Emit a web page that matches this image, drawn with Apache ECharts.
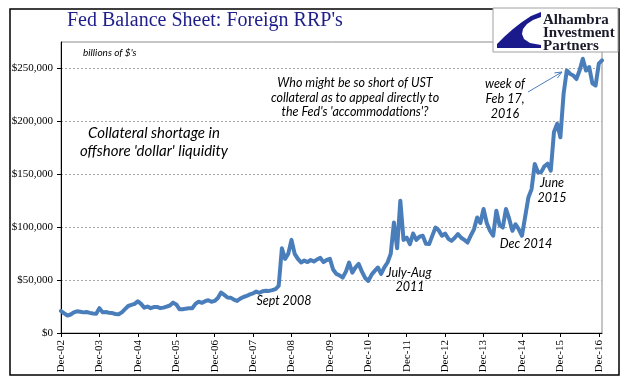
<!DOCTYPE html>
<html>
<head>
<meta charset="utf-8">
<script src="https://cdn.jsdelivr.net/npm/echarts@6/dist/echarts.min.js"></script>
<style>
html,body{margin:0;padding:0;background:#fff;}
#chart{width:641px;height:381px;}
</style>
</head>
<body>
<div id="chart"></div>
<script>
// Foreign RRP's, $ millions, monthly readings from Dec-02 through Jan-17
const v2002 = [20800];
const v2003 = [18500,16500,17500,19500,20500,20000,19500,19800,19000,18500,18200,23500];
const v2004 = [19500,19800,19200,18800,18000,17700,19500,22500,25500,26500,27500,30000];
const v2005 = [27500,24000,25000,23500,24500,24600,23500,24000,25000,26000,28700,27000];
const v2006 = [22500,22400,23000,23500,23400,27500,29600,28500,30000,31000,29500,30300];
const v2007 = [33000,38200,36000,33500,33400,31500,30300,32500,34000,35000,36500,37500];
const v2008 = [39100,38000,39500,40000,39800,40500,41500,44500,80000,70000,75000,88000];
const v2009 = [74800,70000,66600,68500,67000,69000,67500,69500,71000,67000,69000,70000];
const v2010 = [60000,55800,54500,52400,58000,66600,57100,62000,65300,58000,52000,49200];
const v2011 = [55000,58700,61900,55800,62000,66600,74800,104500,80000,125000,88000,90200];
const v2012 = [84000,94000,88000,91000,91900,84300,84000,92000,99700,97000,91900,94000];
const v2013 = [89000,87100,90000,93500,90000,88000,85500,92000,98000,109200,104000,117200];
const v2014 = [104000,96600,91900,115500,102000,99700,117200,108000,96600,102800,98000,91900];
const v2015 = [110000,128000,136000,159700,151900,152000,157500,160000,153400,190000,197700,185000];
const v2016 = [226000,248100,245000,243400,240000,248100,259200,248000,251300,236000,233900,254500];
const v2017 = [257600];

const rrpValues = [].concat(v2002,v2003,v2004,v2005,v2006,v2007,v2008,v2009,v2010,v2011,v2012,v2013,v2014,v2015,v2016,v2017);

const monthNames = ['Jan','Feb','Mar','Apr','May','Jun','Jul','Aug','Sep','Oct','Nov','Dec'];
const yearTicks = ['Dec-02','Dec-03','Dec-04','Dec-05','Dec-06','Dec-07','Dec-08','Dec-09','Dec-10','Dec-11','Dec-12','Dec-13','Dec-14','Dec-15','Dec-16'];
const yTicks = [0,50000,100000,150000,200000,250000];

const categories = [];
for (let i = 0; i < rrpValues.length; i++) {
  const mIdx = (11 + i) % 12;
  const yr = 2002 + Math.floor((11 + i) / 12);
  categories.push(monthNames[mIdx] + '-' + String(yr).slice(2));
}

const chart = echarts.init(document.getElementById('chart'), null, {renderer: 'canvas'});

const annoFont = 'Lato, "Open Sans", sans-serif';
function note(x, y, text, size, align) {
  return {
    type: 'text', x: x, y: y, z: 10,
    style: {
      text: text, fill: '#000', font: 'italic ' + size + 'px ' + annoFont,
      textAlign: align || 'center', textVerticalAlign: 'middle'
    }
  };
}

const option = {
  animation: false,
  backgroundColor: '#fff',
  grid: {
    left: 61, right: 39, top: 42, bottom: 48,
    show: true, borderColor: '#8c8c8c', borderWidth: 1, backgroundColor: 'transparent'
  },
  xAxis: {
    type: 'category',
    data: categories,
    boundaryGap: false,
    axisLine: {lineStyle: {color: '#000', width: 1}},
    axisTick: {
      show: true, length: 4, lineStyle: {color: '#000'},
      interval: function (idx) { return idx % 12 === 0; }
    },
    axisLabel: {
      rotate: 90, margin: 7,
      interval: function (idx) { return idx % 12 === 0; },
      formatter: function (val, idx) { return yearTicks[Math.round(idx / 12)] || val; },
      fontFamily: '"Liberation Serif", serif', fontSize: 11, color: '#000'
    },
    splitLine: {show: false}
  },
  yAxis: {
    type: 'value',
    min: 0, max: 275000, interval: 50000,
    axisLine: {show: true, lineStyle: {color: '#000', width: 1}},
    axisTick: {show: true, length: 4, lineStyle: {color: '#000'}, customValues: yTicks},
    axisLabel: {
      customValues: yTicks, margin: 8,
      fontFamily: '"Liberation Serif", serif', fontSize: 11, color: '#000',
      formatter: function (v) { return '$' + v.toLocaleString('en-US'); }
    },
    splitLine: {show: true, lineStyle: {color: '#a8a8a8', type: [2, 2], width: 1}}
  },
  series: [{
    type: 'line',
    data: rrpValues,
    showSymbol: false,
    lineStyle: {color: '#4a7ebb', width: 4, join: 'round', cap: 'round'},
    itemStyle: {color: '#4a7ebb'},
    z: 3
  }],
  graphic: [
    {type: 'rect', shape: {x: 10, y: 9, width: 609, height: 366}, z: 0,
     style: {fill: 'none', stroke: '#000', lineWidth: 1.5}},
    {type: 'text', x: 67, y: 21, z: 10,
     style: {text: "Fed Balance Sheet: Foreign RRP's", fill: '#1e1e8a',
             font: '20px "Liberation Serif", serif', textVerticalAlign: 'middle'}},
    // logo
    {type: 'rect', shape: {x: 493, y: 8, width: 125, height: 44}, z: 20,
     style: {fill: '#fff', stroke: '#a0a0a0', lineWidth: 1}},
    {type: 'polygon', z: 21,
     shape: {points: [[541,12],[541,17],[533,20],[527,24],[523,29],[522,34],[524,39],[530,43],[541,45],[541,48],[497,48],[497,44],[504,37],[513,29],[522,22],[531,16]]},
     style: {fill: '#1a1a8c'}},
    {type: 'text', x: 543, y: 20, z: 21,
     style: {text: 'Alhambra', fill: '#1a1a2a', font: 'bold 15px "Liberation Serif", serif', textVerticalAlign: 'middle'}},
    {type: 'text', x: 543, y: 33, z: 21,
     style: {text: 'Investment', fill: '#1a1a2a', font: 'bold 15px "Liberation Serif", serif', textVerticalAlign: 'middle'}},
    {type: 'text', x: 543, y: 46, z: 21,
     style: {text: 'Partners', fill: '#1a1a2a', font: 'bold 15px "Liberation Serif", serif', textVerticalAlign: 'middle'}},
    // annotations
    note(83, 53, "billions of $'s", 10, 'left'),
    note(154, 133, 'Collateral shortage in', 15),
    note(154, 151, "offshore 'dollar' liquidity", 15),
    note(355, 83, 'Who might be so short of UST', 12.5),
    note(355, 98, 'collateral as to appeal directly to', 12.5),
    note(355, 112, "the Fed's 'accommodations'?", 12.5),
    note(505, 84, 'week of', 12.5),
    note(505, 99, 'Feb 17,', 12.5),
    note(505, 114, '2016', 12.5),
    note(552, 183, 'June', 12.5),
    note(552, 198, '2015', 12.5),
    note(526, 244, 'Dec 2014', 12.5),
    note(409, 273, 'July-Aug', 12.5),
    note(410, 287, '2011', 12.5),
    note(284, 301, 'Sept 2008', 12.5),
    {type: 'line', z: 10, shape: {x1: 528, y1: 92, x2: 562, y2: 72},
     style: {stroke: '#4a7ebb', lineWidth: 1}},
    {type: 'polyline', z: 10, shape: {points: [[557.4, 78.1], [562, 72], [554.4, 72.9]]},
     style: {stroke: '#4a7ebb', lineWidth: 1, fill: 'none'}}
  ]
};
chart.setOption(option);
</script>
</body>
</html>
